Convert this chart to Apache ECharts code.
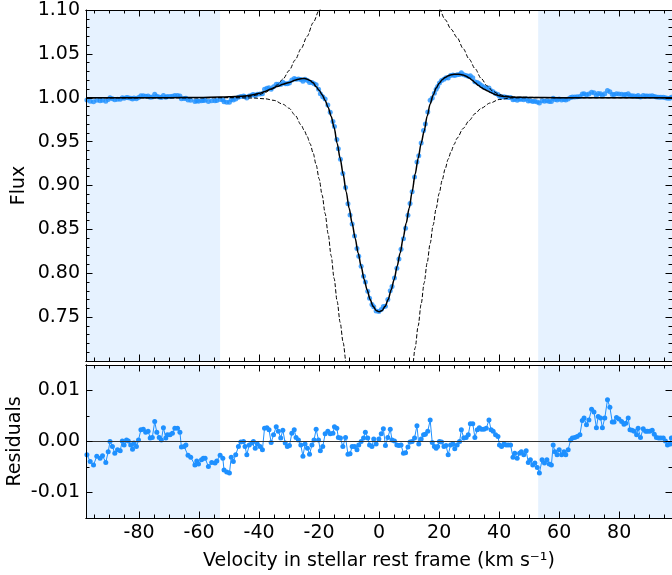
<!DOCTYPE html>
<html>
<head>
<meta charset="utf-8">
<script src="https://cdn.jsdelivr.net/npm/echarts@6/dist/echarts.min.js"></script>
<style>html,body{margin:0;padding:0;background:#fff;}#chart{width:672px;height:575px;}</style>
</head>
<body>
<div id="chart"></div>
<script>
// ---------------- data ----------------
const velocity = [
-97.4,-96.3,-95.2,-94.1,-93.0,-92.2,-91.1,-90.3,-89.7,-88.9,
-88.1,-87.2,-86.3,-85.6,-85.0,-84.2,-83.6,-82.8,-82.2,-81.7,
-80.9,-80.2,-79.4,-78.6,-77.8,-77.0,-76.3,-75.6,-74.8,-74.1,
-73.3,-72.6,-71.9,-71.1,-70.6,-69.7,-68.9,-68.1,-67.2,-66.4,
-65.9,-65.0,-64.4,-63.7,-62.8,-61.4,-60.8,-60.2,-59.2,-58.6,
-58.0,-56.9,-55.8,-54.7,-54.1,-53.0,-52.1,-51.7,-50.8,-49.9,
-49.3,-48.6,-47.8,-46.9,-46.1,-45.2,-44.7,-44.1,-43.3,-42.4,
-41.9,-41.3,-40.6,-39.7,-38.9,-38.2,-37.4,-36.7,-36.0,-35.2,
-34.3,-33.6,-32.8,-32.1,-31.3,-30.6,-29.9,-29.1,-28.3,-27.7,
-26.9,-26.1,-25.4,-24.7,-23.9,-23.2,-22.4,-21.7,-21.0,-20.2,
-19.6,-18.8,-18.0,-17.1,-16.3,-15.4,-14.9,-14.1,-13.6,-12.9,
-12.1,-11.2,-10.4,-9.7,-9.0,-8.2,-7.4,-6.8,-6.0,-5.2,
-4.6,-3.8,-3.2,-2.4,-1.8,-1.0,-0.1,0.7,1.4,2.1,
2.9,3.7,4.3,5.1,5.9,6.6,7.3,8.1,8.8,9.6,
10.3,11.0,11.8,12.6,13.2,14.0,14.8,15.4,16.2,17.0,
17.7,18.4,19.0,19.5,20.1,20.8,21.6,22.3,23.0,23.8,
24.6,25.2,26.0,26.8,27.4,28.2,29.0,29.7,30.4,31.2,
31.9,32.7,33.4,34.1,34.9,35.7,36.6,37.3,38.0,38.8,
39.6,40.1,40.8,41.6,42.3,43.0,43.8,44.6,45.2,46.0,
46.8,47.4,48.2,49.0,49.7,50.4,51.2,51.9,52.7,53.4,
54.3,55.1,55.9,56.7,57.4,58.0,58.6,59.3,60.0,60.8,
61.6,62.2,63.0,63.8,64.4,65.2,66.0,66.9,67.7,68.3,
69.1,69.9,70.8,71.6,72.4,73.0,73.8,74.4,75.2,76.1,
76.9,77.7,78.3,79.1,79.9,80.8,81.6,82.2,83.0,83.6,
84.3,85.0,85.8,86.3,87.1,88.0,88.8,89.4,90.2,91.0,
91.7,92.4,93.2,93.9,94.7,95.4,96.1,96.9,97.4
];
const flux = [
0.9974,0.9961,0.9954,0.9971,0.9967,0.9972,0.9959,0.9980,1.0000,0.9990,
0.9977,0.9984,0.9982,1.0001,0.9993,1.0003,1.0001,0.9993,0.9985,0.9997,
0.9990,1.0003,1.0023,1.0024,1.0018,1.0020,1.0007,1.0008,1.0039,1.0018,
1.0008,1.0003,1.0027,1.0007,1.0013,1.0014,1.0017,1.0027,1.0027,1.0019,
0.9990,0.9991,0.9994,0.9974,0.9971,0.9957,0.9965,0.9959,0.9967,0.9970,
0.9971,0.9956,0.9965,0.9965,0.9969,0.9981,0.9976,0.9953,0.9950,0.9948,
0.9980,0.9973,0.9987,1.0005,1.0015,1.0019,1.0011,0.9998,1.0021,1.0030,
1.0036,1.0027,1.0040,1.0043,1.0046,1.0096,1.0107,1.0113,1.0098,1.0124,
1.0153,1.0153,1.0151,1.0176,1.0159,1.0159,1.0168,1.0202,1.0219,1.0211,
1.0214,1.0209,1.0189,1.0212,1.0197,1.0174,1.0173,1.0160,1.0149,1.0096,
1.0047,1.0012,0.9985,0.9918,0.9835,0.9728,0.9671,0.9524,0.9420,0.9299,
0.9138,0.8978,0.8791,0.8665,0.8560,0.8424,0.8282,0.8193,0.8080,0.7967,
0.7900,0.7795,0.7715,0.7644,0.7619,0.7571,0.7565,0.7586,0.7620,0.7623,
0.7700,0.7801,0.7849,0.7946,0.8058,0.8162,0.8274,0.8394,0.8514,0.8661,
0.8796,0.8930,0.9097,0.9269,0.9339,0.9485,0.9627,0.9702,0.9838,0.9972,
0.9998,1.0052,1.0097,1.0128,1.0169,1.0196,1.0211,1.0229,1.0224,1.0253,
1.0260,1.0253,1.0261,1.0266,1.0285,1.0262,1.0253,1.0244,1.0250,1.0229,
1.0183,1.0175,1.0160,1.0140,1.0123,1.0111,1.0112,1.0081,1.0067,1.0049,
1.0037,1.0016,1.0009,1.0010,1.0005,1.0003,1.0002,0.9976,0.9983,0.9972,
0.9982,0.9984,0.9978,0.9985,0.9962,0.9967,0.9957,0.9960,0.9951,0.9940,
0.9966,0.9960,0.9966,0.9958,0.9956,0.9994,0.9981,0.9975,0.9985,0.9975,
0.9981,0.9975,0.9985,1.0004,1.0008,1.0009,1.0011,1.0014,1.0042,1.0047,
1.0034,1.0043,1.0063,1.0058,1.0027,1.0049,1.0046,1.0027,1.0046,1.0082,
1.0067,1.0038,1.0038,1.0047,1.0044,1.0039,1.0034,1.0036,1.0046,1.0023,
1.0022,1.0020,1.0013,1.0026,1.0008,1.0025,1.0020,1.0020,1.0020,1.0022,
1.0014,1.0008,1.0007,1.0007,1.0007,1.0001,0.9993,0.9995,1.0007
];
const residual = [
-0.0026,-0.0039,-0.0046,-0.0029,-0.0033,-0.0028,-0.0041,-0.0020,0.0000,-0.0010,
-0.0023,-0.0016,-0.0018,0.0001,-0.0007,0.0003,0.0001,-0.0007,-0.0015,-0.0003,
-0.0010,0.0003,0.0023,0.0024,0.0018,0.0020,0.0007,0.0008,0.0039,0.0018,
0.0008,0.0003,0.0027,0.0007,0.0013,0.0013,0.0016,0.0026,0.0026,0.0018,
-0.0011,-0.0010,-0.0007,-0.0027,-0.0031,-0.0046,-0.0038,-0.0044,-0.0036,-0.0033,
-0.0033,-0.0049,-0.0041,-0.0042,-0.0038,-0.0027,-0.0033,-0.0056,-0.0060,-0.0062,
-0.0031,-0.0039,-0.0026,-0.0010,-0.0001,0.0000,-0.0010,-0.0026,-0.0007,-0.0003,
0.0000,-0.0013,-0.0005,-0.0010,-0.0016,0.0026,0.0027,0.0023,-0.0002,0.0013,
0.0029,0.0020,0.0007,0.0022,-0.0003,-0.0010,-0.0008,0.0016,0.0023,0.0008,
0.0003,-0.0007,-0.0029,-0.0005,-0.0013,-0.0025,-0.0007,0.0003,0.0024,0.0003,
-0.0018,-0.0010,0.0015,0.0020,0.0015,0.0016,0.0029,0.0026,0.0008,0.0007,
-0.0010,0.0008,-0.0025,-0.0024,-0.0010,-0.0010,-0.0016,-0.0007,0.0000,0.0007,
0.0018,0.0007,-0.0007,-0.0010,0.0005,-0.0005,0.0005,0.0015,0.0025,-0.0008,
0.0008,0.0024,0.0003,0.0001,-0.0007,-0.0008,-0.0007,-0.0023,-0.0022,-0.0011,
-0.0001,0.0000,0.0007,0.0031,-0.0005,0.0005,0.0013,0.0014,0.0020,0.0042,
-0.0002,-0.0010,-0.0013,-0.0010,0.0000,-0.0001,-0.0010,-0.0008,-0.0026,-0.0007,
-0.0005,-0.0014,-0.0007,0.0000,0.0023,0.0007,0.0008,0.0013,0.0035,0.0035,
0.0008,0.0023,0.0027,0.0024,0.0024,0.0026,0.0042,0.0023,0.0020,0.0013,
0.0010,-0.0007,-0.0010,-0.0005,-0.0007,-0.0007,-0.0007,-0.0031,-0.0023,-0.0033,
-0.0023,-0.0020,-0.0026,-0.0018,-0.0041,-0.0036,-0.0046,-0.0042,-0.0051,-0.0062,
-0.0036,-0.0042,-0.0036,-0.0044,-0.0046,-0.0007,-0.0020,-0.0026,-0.0016,-0.0026,
-0.0020,-0.0026,-0.0016,0.0003,0.0007,0.0008,0.0010,0.0013,0.0041,0.0046,
0.0033,0.0042,0.0063,0.0058,0.0027,0.0049,0.0046,0.0027,0.0046,0.0082,
0.0067,0.0038,0.0038,0.0047,0.0044,0.0039,0.0034,0.0036,0.0046,0.0023,
0.0022,0.0020,0.0013,0.0026,0.0008,0.0025,0.0020,0.0020,0.0020,0.0022,
0.0014,0.0008,0.0007,0.0007,0.0007,0.0001,-0.0007,-0.0005,0.0007
];
// best-fit model line
const modelV = [-97.7,-70,-60,-53,-50,-46,-44,-42,-40,-38,-36,-34,-32,-30,-28,-27,-26,-25,-24,-23,-22,-21,-20,-19,-18,-17,-16,-15,-14,-13,-12,-11,-10,-9,-8,-7,-6,-5,-4,-3,-2,-1,0,1,2,3,4,5,6,7,8,9,10,11,12,13,14,15,16,17,18,19,20,21,22,23,24,25,26,27,28,29,30,31,32,33,34,35,36,37,38,39,40,42,45,50,60,97.6];
const modelF = [1.0000,1.0001,1.0003,1.0008,1.0010,1.0016,1.0024,1.0035,1.0050,1.0072,1.0100,1.0128,1.0155,1.0175,1.0200,1.0210,1.0217,1.0219,1.0212,1.0196,1.0170,1.0125,1.0085,1.0035,0.9970,0.9890,0.9790,0.9660,0.9480,0.9310,0.9130,0.8930,0.8740,0.8570,0.8400,0.8230,0.8080,0.7930,0.7810,0.7700,0.7623,0.7576,0.7560,0.7576,0.7623,0.7700,0.7810,0.7930,0.8080,0.8230,0.8400,0.8570,0.8740,0.8930,0.9130,0.9310,0.9480,0.9620,0.9790,0.9930,1.0030,1.0110,1.0165,1.0205,1.0232,1.0250,1.0262,1.0267,1.0268,1.0265,1.0258,1.0245,1.0225,1.0200,1.0172,1.0143,1.0118,1.0097,1.0080,1.0063,1.0047,1.0033,1.0023,1.0013,1.0006,1.0003,1.0001,1.0000];
// dashed component curves
const upperLeftV = [-97.7,-60,-50,-44,-40,-38,-36,-34,-32,-30,-28,-26,-24,-22,-20,-18];
const upperLeftF = [1.0000,1.0000,1.0003,1.0012,1.0035,1.0060,1.0095,1.0145,1.0215,1.0310,1.0430,1.0560,1.0700,1.0855,1.0995,1.1150];
const upperRightV = [18,20,22,24,26,28,30,32,34,36,38,40,42,46,60,97.6];
const upperRightF = [1.1130,1.1015,1.0890,1.0780,1.0685,1.0560,1.0440,1.0330,1.0220,1.0135,1.0072,1.0038,1.0020,1.0006,1.0001,1.0000];
const lowerLeftV = [-97.7,-50,-42,-38,-35,-32,-30,-28,-26,-25,-24,-23,-22,-21,-20,-19,-18,-17,-16,-15,-14,-13,-12,-11,-10];
const lowerLeftF = [1.0000,1.0000,0.9997,0.9988,0.9970,0.9925,0.9880,0.9800,0.9690,0.9630,0.9560,0.9475,0.9370,0.9235,0.9075,0.8890,0.8680,0.8450,0.8200,0.7940,0.7680,0.7440,0.7210,0.6980,0.6750];
const lowerRightV = [10,11,12,13,14,15,16,17,18,19,20,21,22,23,24,25,26,28,30,32,34,37,40,44,50,97.6];
const lowerRightF = [0.6650,0.6900,0.7150,0.7400,0.7650,0.7890,0.8120,0.8340,0.8550,0.8740,0.8910,0.9060,0.9190,0.9300,0.9390,0.9470,0.9540,0.9650,0.9740,0.9820,0.9880,0.9940,0.9980,0.9997,1.0000,1.0000];
// shaded continuum windows (km/s)
const windowLeft = [-97.7, -53];
const windowRight = [53, 97.6];
// axes
const xRange = [-97.7, 97.6];
const xMajorTicks = [-80,-60,-40,-20,0,20,40,60,80];
const xMinorTicks = [-95,-90,-85,-75,-70,-65,-55,-50,-45,-35,-30,-25,-15,-10,-5,5,10,15,25,30,35,45,50,55,65,70,75,85,90,95];
const fluxRange = [0.70, 1.10];
const fluxStep = 0.05;
const resRange = [-0.015, 0.015];
const resMajorTicks = [-0.01, 0, 0.01];
const resMinorTicks = [-0.015, -0.005, 0.005, 0.015];

// ---------------- chart ----------------
const FONT = 'DejaVu Sans';
const BLUE = '#1e90ff';
const SHADE = '#e6f2ff';
const zip = (a, b) => a.map((v, i) => [v, b[i]]);

function xAx(grid, pos, ticks, len, withLabels, extra) {
  return Object.assign({
    type: 'value', gridIndex: grid, position: pos, min: xRange[0], max: xRange[1], z: 10,
    axisLine: { show: true, onZero: false, lineStyle: { color: '#000', width: 1 } },
    axisTick: { show: true, inside: true, length: len, customValues: ticks, lineStyle: { color: '#000', width: 1 } },
    axisLabel: { show: withLabels, customValues: ticks, margin: 6, fontSize: 19, fontFamily: FONT, color: '#000',
      formatter: v => String(v) },
    splitLine: { show: false }
  }, extra || {});
}
function resAx(pos, ticks, len, withLabels, extra) {
  return Object.assign({
    type: 'value', gridIndex: 1, position: pos, min: resRange[0], max: resRange[1], z: 10,
    axisLine: { show: true, onZero: false, lineStyle: { color: '#000', width: 1 } },
    axisTick: { show: true, inside: true, length: len, customValues: ticks, lineStyle: { color: '#000', width: 1 } },
    axisLabel: { show: withLabels, customValues: ticks, margin: 6, fontSize: 19, fontFamily: FONT, color: '#000',
      formatter: v => v.toFixed(2) },
    splitLine: { show: false }
  }, extra || {});
}
function fluxAx(pos, withLabels, extra) {
  return Object.assign({
    type: 'value', gridIndex: 0, position: pos, min: fluxRange[0], max: fluxRange[1], interval: fluxStep, z: 10,
    axisLine: { show: true, onZero: false, lineStyle: { color: '#000', width: 1 } },
    axisTick: { show: true, inside: true, length: 6.5, lineStyle: { color: '#000', width: 1 } },
    minorTick: { show: true, splitNumber: 5, length: 3.5, lineStyle: { color: '#000', width: 1 } },
    axisLabel: { show: withLabels, showMinLabel: false, margin: 6, fontSize: 19, fontFamily: FONT, color: '#000',
      formatter: v => v.toFixed(2) },
    splitLine: { show: false }, minorSplitLine: { show: false }
  }, extra || {});
}

const nameStyle = { fontSize: 19, fontFamily: FONT, color: '#000' };

const option = {
  animation: false,
  backgroundColor: '#fff',
  grid: [
    { left: 86, right: 0, top: 10, height: 351, containLabel: false, outerBoundsMode: 'none' },
    { left: 86, right: 0, top: 365, height: 153, containLabel: false, outerBoundsMode: 'none' }
  ],
  xAxis: [
    xAx(0, 'bottom', xMajorTicks, 6.5, false),
    xAx(0, 'bottom', xMinorTicks, 3.5, false),
    xAx(0, 'top', xMajorTicks, 6.5, false),
    xAx(0, 'top', xMinorTicks, 3.5, false),
    xAx(1, 'bottom', xMajorTicks, 6.5, true, {
      name: 'Velocity in stellar rest frame (km s\u207B\u00B9)',
      nameLocation: 'middle', nameGap: 34, nameTextStyle: nameStyle
    }),
    xAx(1, 'bottom', xMinorTicks, 3.5, false),
    xAx(1, 'top', xMajorTicks, 6.5, false),
    xAx(1, 'top', xMinorTicks, 3.5, false)
  ],
  yAxis: [
    fluxAx('left', true, { name: 'Flux', nameLocation: 'middle', nameGap: 57, nameMoveOverlap: false, nameTextStyle: nameStyle }),
    fluxAx('right', false),
    resAx('left', resMajorTicks, 6.5, true, { name: 'Residuals', nameLocation: 'middle', nameGap: 61, nameMoveOverlap: false, nameTextStyle: nameStyle }),
    resAx('left', resMinorTicks, 3.5, false),
    resAx('right', resMajorTicks, 6.5, false),
    resAx('right', resMinorTicks, 3.5, false)
  ],
  series: [
    { type: 'line', xAxisIndex: 0, yAxisIndex: 0, data: [], z: -1, silent: true,
      markArea: { silent: true, itemStyle: { color: SHADE },
        data: [[{ xAxis: windowLeft[0] }, { xAxis: windowLeft[1] }], [{ xAxis: windowRight[0] }, { xAxis: windowRight[1] }]] } },
    { type: 'scatter', xAxisIndex: 0, yAxisIndex: 0, data: zip(velocity, flux), symbol: 'circle', symbolSize: 5,
      itemStyle: { color: BLUE }, z: 2, silent: true },
    { type: 'line', xAxisIndex: 0, yAxisIndex: 0, data: zip(upperLeftV, upperLeftF), showSymbol: false, smooth: 0.3, smoothMonotone: 'x',
      lineStyle: { color: '#000', width: 1, type: [4, 2] }, z: 3, clip: true, silent: true },
    { type: 'line', xAxisIndex: 0, yAxisIndex: 0, data: zip(upperRightV, upperRightF), showSymbol: false, smooth: 0.3, smoothMonotone: 'x',
      lineStyle: { color: '#000', width: 1, type: [4, 2] }, z: 3, clip: true, silent: true },
    { type: 'line', xAxisIndex: 0, yAxisIndex: 0, data: zip(lowerLeftV, lowerLeftF), showSymbol: false, smooth: 0.3, smoothMonotone: 'x',
      lineStyle: { color: '#000', width: 1, type: [4, 2] }, z: 3, clip: true, silent: true },
    { type: 'line', xAxisIndex: 0, yAxisIndex: 0, data: zip(lowerRightV, lowerRightF), showSymbol: false, smooth: 0.3, smoothMonotone: 'x',
      lineStyle: { color: '#000', width: 1, type: [4, 2] }, z: 3, clip: true, silent: true },
    { type: 'line', xAxisIndex: 0, yAxisIndex: 0, data: zip(modelV, modelF), showSymbol: false, smooth: 0.3, smoothMonotone: 'x',
      lineStyle: { color: '#000', width: 1.5 }, z: 4, clip: true, silent: true },
    { type: 'line', xAxisIndex: 4, yAxisIndex: 2, data: [], z: -1, silent: true,
      markArea: { silent: true, itemStyle: { color: SHADE },
        data: [[{ xAxis: windowLeft[0] }, { xAxis: windowLeft[1] }], [{ xAxis: windowRight[0] }, { xAxis: windowRight[1] }]] } },
    { type: 'line', xAxisIndex: 4, yAxisIndex: 2, data: zip(velocity, residual), symbol: 'circle', symbolSize: 5, showSymbol: true,
      lineStyle: { color: BLUE, width: 1 }, itemStyle: { color: BLUE }, z: 2, silent: true,
      markLine: { silent: true, symbol: 'none', label: { show: false }, lineStyle: { color: '#333', width: 1, type: 'solid' },
        data: [{ yAxis: 0 }] } }
  ]
};
echarts.init(document.getElementById('chart'), null, { renderer: 'canvas' }).setOption(option);
</script>
</body>
</html>
